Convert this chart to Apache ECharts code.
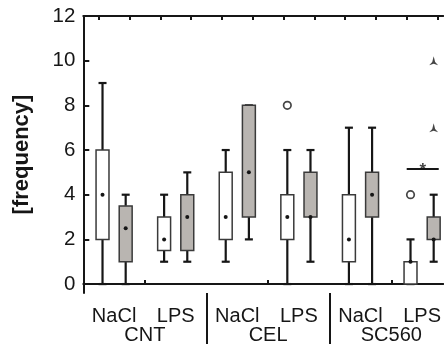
<!DOCTYPE html>
<html>
<head>
<meta charset="utf-8">
<script src="https://cdn.jsdelivr.net/npm/echarts@6/dist/echarts.min.js"></script>
<style>
  html, body { margin: 0; padding: 0; background: #fff; }
  #chart { width: 444px; height: 345px; }
</style>
</head>
<body>
<div id="chart"></div>
<script>
  // x axis: three groups, each with two treatments, two boxes per treatment
  var groups = ['CNT', 'CEL', 'SC560'];
  var treatments = ['NaCl', 'LPS'];
  var yTicks = [0, 2, 4, 6, 8, 10, 12];

  // white boxes, one per slot (CNT NaCl, CNT LPS, CEL NaCl, CEL LPS, SC560 NaCl, SC560 LPS)
  var whiteLow = [0, 1, 1, 0, 0, 0];
  var whiteQ1 = [2, 1.5, 2, 2, 1, 0];
  var whiteQ3 = [6, 3, 5, 4, 4, 1];
  var whiteHigh = [9, 4, 6, 6, 7, 2];
  var whiteMean = [4, 2, 3, 3, 2, 1];

  // grey boxes
  var greyLow = [0, 1, 2, 1, 0, 1];
  var greyQ1 = [1, 1.5, 3, 3, 3, 2];
  var greyQ3 = [3.5, 4, 8, 5, 5, 3];
  var greyHigh = [4, 5, 8, 6, 7, 4];
  var greyMean = [2.5, 3, 5, 3, 4, 2];

  // outliers (circles) and extremes (stars): slot, box (0 white / 1 grey), value
  var outlierSlot = [3, 5];
  var outlierBox = [0, 0];
  var outlierValue = [8, 4];
  var extremeSlot = [5, 5];
  var extremeBox = [1, 1];
  var extremeValue = [7, 10];

  // significance bar above SC560 LPS
  var sigLine = [[5.25, 5.15], [5.77, 5.15]];
  var sigMark = [[5.51, 5.15]];

  var ink = '#161616';
  var font = 'Arial, "Liberation Sans", Helvetica, sans-serif';
  var xMax = 5.846;

  function boxX(slot, box) {
    return slot + 0.5 + (box ? 0.188 : -0.188);
  }

  var boxData = [];
  for (var i = 0; i < whiteLow.length; i++) {
    boxData.push([boxX(i, 0), whiteLow[i], whiteQ1[i], whiteQ3[i], whiteHigh[i], whiteMean[i], 0]);
    boxData.push([boxX(i, 1), greyLow[i], greyQ1[i], greyQ3[i], greyHigh[i], greyMean[i], 1]);
  }
  var outlierData = outlierSlot.map(function (s, k) { return [boxX(s, outlierBox[k]), outlierValue[k]]; });
  var extremeData = extremeSlot.map(function (s, k) { return [boxX(s, extremeBox[k]), extremeValue[k]]; });

  var labelCenters = [];
  var quarterTicks = [];
  for (var j = 0; j < groups.length * treatments.length; j++) {
    labelCenters.push(j + 0.5);
    quarterTicks.push(j + 0.25, j + 0.75);
  }

  function renderBox(params, api) {
    var x = api.value(0);
    var low = api.coord([x, api.value(1)]);
    var q1 = api.coord([x, api.value(2)]);
    var q3 = api.coord([x, api.value(3)]);
    var high = api.coord([x, api.value(4)]);
    var mean = api.coord([x, api.value(5)]);
    var half = api.size([0.105, 0])[0];
    var cap = api.size([0.065, 0])[0];
    var fill = api.value(6) ? '#b9b5b1' : '#ffffff';
    var whisker = { stroke: ink, lineWidth: 2.2 };
    return {
      type: 'group',
      children: [
        { type: 'line', shape: { x1: low[0], y1: low[1], x2: q1[0], y2: q1[1] }, style: whisker },
        { type: 'line', shape: { x1: q3[0], y1: q3[1], x2: high[0], y2: high[1] }, style: whisker },
        { type: 'line', shape: { x1: low[0] - cap, y1: low[1], x2: low[0] + cap, y2: low[1] }, style: whisker },
        { type: 'line', shape: { x1: high[0] - cap, y1: high[1], x2: high[0] + cap, y2: high[1] }, style: whisker },
        {
          type: 'rect',
          shape: { x: q3[0] - half, y: q3[1], width: half * 2, height: q1[1] - q3[1] },
          style: { fill: fill, stroke: '#3a3a3a', lineWidth: 1.5 }
        },
        { type: 'circle', shape: { cx: mean[0], cy: mean[1], r: 2 }, style: { fill: ink } }
      ]
    };
  }

  var chart = echarts.init(document.getElementById('chart'));
  chart.setOption({
    animation: false,
    grid: { left: 83.3, right: 0, top: 16, bottom: 50.3 },
    xAxis: [
      {
        type: 'value', min: 0, max: xMax, position: 'bottom',
        axisLine: { lineStyle: { color: ink, width: 2 } },
        axisTick: { inside: true, length: 4, customValues: [1, 3, 5], lineStyle: { color: ink, width: 2 } },
        axisLabel: {
          customValues: labelCenters, margin: 13, fontSize: 20, color: ink, fontFamily: font,
          formatter: function (v) { return treatments[Math.round(v - 0.5) % 2]; }
        },
        splitLine: { show: false }
      },
      {
        type: 'value', min: 0, max: xMax, position: 'bottom',
        axisLine: { show: false },
        axisTick: { show: true, length: 51, customValues: [2, 4], lineStyle: { color: ink, width: 2 } },
        axisLabel: {
          customValues: [1, 3, 5], margin: 32, fontSize: 20, color: ink, fontFamily: font,
          formatter: function (v) { return groups[Math.round((v - 1) / 2)]; }
        },
        splitLine: { show: false }
      },
      {
        type: 'value', min: 0, max: xMax, position: 'top',
        axisLine: { lineStyle: { color: ink, width: 2 } },
        axisTick: { inside: true, length: 4, customValues: quarterTicks, lineStyle: { color: ink, width: 2 } },
        axisLabel: { show: false },
        splitLine: { show: false }
      }
    ],
    yAxis: {
      type: 'value', min: -0.4, max: 12,
      name: '[frequency]', nameLocation: 'middle', nameGap: 50,
      nameTextStyle: { fontSize: 22, fontWeight: 'bold', color: ink, fontFamily: font },
      axisLine: { show: true, lineStyle: { color: ink, width: 2 } },
      axisTick: { show: true, inside: true, length: 6, customValues: yTicks, lineStyle: { color: ink, width: 2 } },
      axisLabel: { customValues: yTicks, margin: 8, fontSize: 20.5, color: ink, fontFamily: font },
      splitLine: { show: false }
    },
    series: [
      {
        type: 'custom',
        renderItem: renderBox,
        encode: { x: 0, y: [1, 2, 3, 4, 5] },
        data: boxData,
        z: 3
      },
      {
        type: 'scatter',
        data: outlierData,
        symbol: 'circle',
        symbolSize: 7.5,
        itemStyle: { color: '#fff', borderColor: ink, borderWidth: 1.7 },
        z: 4
      },
      {
        type: 'scatter',
        data: extremeData,
        symbol: 'path://M0,0 L1.6,6.5 L5,10 L0,8.4 L-5,10 L-1.6,6.5 Z',
        symbolSize: [9, 9],
        itemStyle: { color: ink },
        z: 4
      },
      {
        type: 'line',
        data: sigLine,
        symbol: 'none',
        lineStyle: { color: ink, width: 2 },
        z: 4
      },
      {
        type: 'scatter',
        data: sigMark,
        symbolSize: 0,
        label: {
          show: true, position: 'inside', formatter: '*',
          fontSize: 17, fontWeight: 'bold', color: ink, fontFamily: font, offset: [0, 1]
        },
        z: 5
      }
    ]
  });
</script>
</body>
</html>
